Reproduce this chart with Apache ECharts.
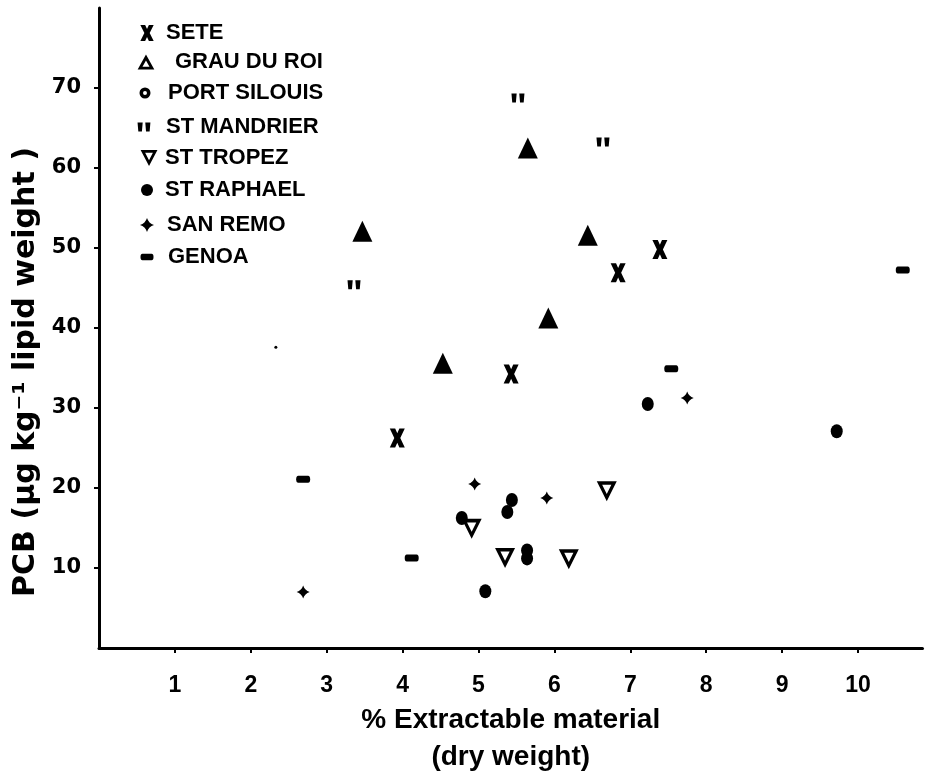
<!DOCTYPE html>
<html><head><meta charset="utf-8">
<script src="https://cdn.jsdelivr.net/npm/echarts@6/dist/echarts.min.js"></script>
<style>html,body{margin:0;padding:0;background:#fff}#c{width:925px;height:775px}</style>
</head><body><div id="c"></div>
<script>
// ---- data ----
const seriesNames = ['SETE','GRAU DU ROI','PORT SILOUIS','ST MANDRIER','ST TROPEZ','ST RAPHAEL','SAN REMO','GENOA'];
const sete        = [[7.39,49.8],[6.84,46.9],[5.43,34.25],[3.93,26.25]];
const grauDuRoi   = [[5.65,62.5],[3.47,52.1],[6.44,51.6],[5.92,41.25],[4.53,35.6]];
const portSilouis = [[2.33,37.6]];
const stMandrier  = [[5.52,68.75],[6.64,63.25],[3.36,45.4]];
const stTropez    = [[6.69,19.6],[4.91,14.9],[5.35,11.25],[6.19,11.1]];
const stRaphael   = [[5.44,18.5],[5.38,17.0],[4.78,16.25],[5.64,12.2],[5.64,11.2],[5.09,7.1],[7.23,30.5],[9.72,27.1]];
const sanRemo     = [[4.95,20.5],[5.9,18.75],[2.69,7.0],[7.75,31.25]];
const genoa       = [[2.69,21.1],[4.12,11.25],[7.54,34.9],[10.59,47.25]];
const xTicks = [1,2,3,4,5,6,7,8,9,10];
const yTicks = [10,20,30,40,50,60,70];

// ---- symbols ----
const P = {
  x: 'path://M0,0 L3.6,0 L5,3 L6.4,0 L10,0 L7,6 L10,12 L6.4,12 L5,9 L3.6,12 L0,12 L3,6 Z',
  triFill: 'path://M5,0 L10,9 L0,9 Z',
  triHollow: 'path://M5,0 L10,9 L0,9 Z M5,3.6 L2.9,7.3 L7.1,7.3 Z',
  ring: 'path://M0,5 A5,5 0 1,1 10,5 A5,5 0 1,1 0,5 Z M3.2,5 A1.8,1.8 0 1,0 6.8,5 A1.8,1.8 0 1,0 3.2,5 Z',
  quote: 'path://M0,0 L4,0 L3.4,7 L0.6,7 Z M6,0 L10,0 L9.4,7 L6.6,7 Z',
  downHollow: 'path://M0,0 L10,0 L5,9.5 Z M2.7,1.7 L5,6.1 L7.3,1.7 Z',
  dot: 'path://M0,5 A5,5 0 1,1 10,5 A5,5 0 1,1 0,5 Z',
  star: 'path://M5,0 Q6.2,3.8 10,5 Q6.2,6.2 5,10 Q3.8,6.2 0,5 Q3.8,3.8 5,0 Z',
  dash: 'path://M1.5,0 L8.5,0 Q10,0 10,2.5 Q10,5 8.5,5 L1.5,5 Q0,5 0,2.5 Q0,0 1.5,0 Z'
};

const seriesDefs = [
  {name: seriesNames[0], data: sete,        symbol: P.x,          size: [15,19]},
  {name: seriesNames[1], data: grauDuRoi,   symbol: P.triFill,    size: [20,21]},
  {name: seriesNames[2], data: portSilouis, symbol: P.dot,        size: [3,3]},
  {name: seriesNames[3], data: stMandrier,  symbol: P.quote,      size: [13,9]},
  {name: seriesNames[4], data: stTropez,    symbol: P.downHollow, size: [20,20]},
  {name: seriesNames[5], data: stRaphael,   symbol: P.dot,        size: [12,14]},
  {name: seriesNames[6], data: sanRemo,     symbol: P.star,       size: [13,13]},
  {name: seriesNames[7], data: genoa,       symbol: P.dash,       size: [14,7]}
];

// legend (one legend per entry so each row can be placed)
const legendIcons  = [P.x, P.triHollow, P.ring, P.quote, P.downHollow, P.dot, P.star, P.dash];
const legendIconH  = [16, 15, 11, 9, 16, 12, 14, 6.5];
const legendIconW  = [13.3, 16.7, 11, 12.9, 16.8, 12, 14, 13];
const legendIconCx = [147, 146, 145, 144, 149, 147, 147, 147];
const legendTextX  = [166, 175, 168, 166, 165, 165, 167, 168];
const legendRowY   = [33, 62, 93, 127, 158, 190, 225, 257];

const legends = seriesNames.map((n,i) => ({
  data: [{name: n, icon: legendIcons[i]}],
  left: legendIconCx[i] - legendIconW[i] / 2,
  top: legendRowY[i] - 12, padding: 0,
  itemWidth: 2 * (legendTextX[i] - 5 - legendIconCx[i]), itemHeight: legendIconH[i],
  symbolRotate: 0, symbolKeepAspect: true, selectedMode: false,
  itemStyle: {color: '#000', borderWidth: 0},
  textStyle: {color: '#000', fontFamily: 'Liberation Sans', fontWeight: 'bold', fontSize: 22, lineHeight: 24}
}));

const chart = echarts.init(document.getElementById('c'), null, {renderer: 'canvas'});
chart.setOption({
  backgroundColor: '#fff',
  animation: false,
  legend: legends,
  grid: {left: 99, right: 2.5, top: 8, bottom: 127, containLabel: false, outerBoundsMode: 'none'},
  xAxis: {
    type: 'value', min: 0, max: 10.85,
    name: '% Extractable material\n(dry weight)',
    nameLocation: 'middle', nameGap: 53,
    nameTextStyle: {color: '#000', fontFamily: 'Liberation Sans', fontWeight: 'bold', fontSize: 28, lineHeight: 37},
    splitLine: {show: false},
    axisLine: {lineStyle: {color: '#000', width: 3}},
    axisTick: {show: true, customValues: xTicks, length: 5, lineStyle: {color: '#000', width: 2}},
    axisLabel: {customValues: xTicks, margin: 26, color: '#000', fontFamily: 'Liberation Sans Narrow, Liberation Sans', fontWeight: 'bold', fontSize: 23}
  },
  yAxis: {
    type: 'value', min: 0, max: 80,
    name: 'PCB (µg kg⁻¹ lipid weight )',
    nameLocation: 'middle', nameGap: 54,
    nameTextStyle: {color: '#000', fontFamily: 'DejaVu Sans', fontWeight: 'bold', fontSize: 30, padding: [0, 88, 0, 0]},
    splitLine: {show: false},
    axisLine: {lineStyle: {color: '#000', width: 3}},
    axisTick: {show: true, customValues: yTicks, length: 5, lineStyle: {color: '#000', width: 2}},
    axisLabel: {customValues: yTicks, margin: 18, color: '#000', fontFamily: 'DejaVu Sans', fontWeight: 'bold', fontSize: 21}
  },
  series: seriesDefs.map(s => ({
    type: 'scatter', name: s.name, data: s.data,
    symbol: s.symbol, symbolSize: s.size, symbolKeepAspect: false,
    itemStyle: {color: '#000', opacity: 1},
    emphasis: {disabled: true}
  }))
});
</script></body></html>
